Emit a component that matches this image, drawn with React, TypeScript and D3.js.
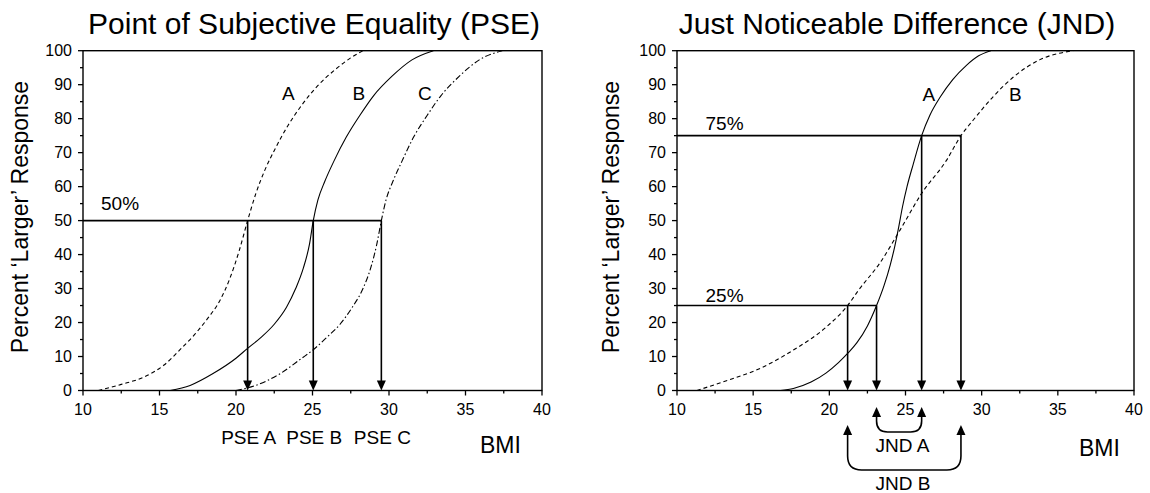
import React from 'react'
import * as d3 from 'd3'

// axis ticks (BMI on x, percent on y)
const bmiTicks = [10, 15, 20, 25, 30, 35, 40]
const bmiMinor = [12.5, 17.5, 22.5, 27.5, 32.5, 37.5]
const pctTicks = [0, 10, 20, 30, 40, 50, 60, 70, 80, 90, 100]
const pctMinor = [5, 15, 25, 35, 45, 55, 65, 75, 85, 95]

// PSE panel curves, [bmi, percent]
const pseA = [[11.0, 0], [12.5, 1.8], [14.0, 4], [15.3, 7.5], [16.34, 12], [17.3, 16.5], [18.2, 21.5], [18.95, 26.5], [19.6, 33], [20.2, 41], [20.76, 50], [21.3, 58], [21.9, 65], [22.6, 71.5], [23.4, 78], [24.3, 84], [25.3, 89.5], [26.5, 94.5], [27.4, 97.6], [28.3, 100]]
const pseB = [[15.7, 0], [17.0, 1.5], [18.5, 5], [20.0, 9.5], [20.76, 12.4], [21.6, 15.5], [22.5, 19.5], [23.3, 24.5], [23.9, 30], [24.4, 36], [24.8, 43], [25.05, 50], [25.35, 56], [25.8, 61.5], [26.4, 67.5], [27.2, 74.5], [28.1, 81], [29.0, 86.8], [30.2, 92.5], [31.5, 97.3], [32.9, 100]]
const pseC = [[20.0, 0], [21.3, 1.5], [22.9, 5], [24.3, 9.5], [25.05, 12], [25.9, 15.5], [26.8, 19.5], [27.6, 24.5], [28.3, 30], [28.8, 36], [29.2, 43], [29.5, 50], [29.8, 56], [30.25, 61.5], [30.85, 67.5], [31.6, 74.5], [32.5, 81], [33.4, 86.8], [34.6, 92.5], [35.9, 97.3], [37.4, 100]]
const pseLevel = 50
const pseValues = [20.76, 25.05, 29.5]
const pseNames = ['PSE A', 'PSE B', 'PSE C']

// JND panel curves
const jndA = [[16.8, 0], [17.64, 0.6], [18.8, 2.5], [19.8, 5.2], [20.6, 8.2], [21.2, 10.9], [21.8, 14], [22.5, 19], [23.1, 25], [23.6, 31], [24.0, 37], [24.3, 42.5], [24.55, 48], [24.8, 54], [25.1, 60], [25.5, 66.5], [26.06, 75], [26.6, 81], [27.3, 86.5], [28.1, 91.5], [29.0, 95.7], [29.8, 98.5], [30.6, 100]]
const jndB = [[11.3, 0], [13.0, 2.5], [15.45, 6.5], [17.64, 11.9], [19.83, 18.8], [21.2, 25], [21.93, 29.6], [23.3, 37.4], [24.64, 47.2], [26.06, 58], [27.7, 67.8], [28.64, 75], [29.45, 79.6], [30.76, 86.5], [32.1, 92.3], [33.8, 97.3], [36.0, 100]]
const jndLow = 25
const jndHigh = 75
const jndLowValues = [21.2, 23.1]
const jndHighValues = [26.06, 28.64]

const font = "'Liberation Sans', Arial, Helvetica, sans-serif"
const W = 1150
const H = 493
const TOP = 50.7
const BOTTOM = 390.5

type Pt = number[]
type S = d3.ScaleLinear<number, number>

function Axes({ x, y }: { x: S; y: S }) {
  const [x0, x1] = x.range()
  return (
    <g stroke="#000" fill="none">
      <rect x={x0} y={TOP} width={x1 - x0} height={BOTTOM - TOP} strokeWidth={1.4} />
      {bmiTicks.map(t => (
        <line key={'xt' + t} x1={x(t)} x2={x(t)} y1={BOTTOM} y2={BOTTOM + 5} strokeWidth={1.3} />
      ))}
      {bmiMinor.map(t => (
        <line key={'xm' + t} x1={x(t)} x2={x(t)} y1={BOTTOM} y2={BOTTOM + 3} strokeWidth={1.3} />
      ))}
      {pctTicks.map(t => (
        <line key={'yt' + t} x1={x0 - 5} x2={x0} y1={y(t)} y2={y(t)} strokeWidth={1.3} />
      ))}
      {pctMinor.map(t => (
        <line key={'ym' + t} x1={x0 - 3} x2={x0} y1={y(t)} y2={y(t)} strokeWidth={1.3} />
      ))}
      <g stroke="none" fill="#000" fontFamily={font} fontSize={16}>
        {bmiTicks.map(t => (
          <text key={'xl' + t} x={x(t)} y={415} textAnchor="middle">{t}</text>
        ))}
        {pctTicks.map(t => (
          <text key={'yl' + t} x={x0 - 11} y={y(t) + 5.6} textAnchor="end">{t}</text>
        ))}
      </g>
    </g>
  )
}

function arrowDown(cx: number, tip: number) {
  return `M${cx - 4.5},${tip - 10}L${cx + 4.5},${tip - 10}L${cx},${tip}Z`
}
function arrowUp(cx: number, tip: number) {
  return `M${cx - 4.5},${tip + 10}L${cx + 4.5},${tip + 10}L${cx},${tip}Z`
}

function bracket(xa: number, xb: number, tip: number, bottom: number, r: number) {
  const b = tip + 10
  return `M${xa},${b}V${bottom - r}Q${xa},${bottom} ${xa + r},${bottom}H${xb - r}Q${xb},${bottom} ${xb},${bottom - r}V${b}`
}

function Drop({ x, y, v, level }: { x: S; y: S; v: number; level: number }) {
  return (
    <g>
      <line x1={x(v)} x2={x(v)} y1={y(level)} y2={BOTTOM - 9} stroke="#000" strokeWidth={1.6} />
      <path d={arrowDown(x(v), BOTTOM)} fill="#000" />
    </g>
  )
}

export default function App() {
  const xL = d3.scaleLinear().domain([10, 40]).range([83, 542])
  const xR = d3.scaleLinear().domain([10, 40]).range([677, 1134])
  const y = d3.scaleLinear().domain([0, 100]).range([BOTTOM, TOP])

  const lineOf = (x: S) =>
    d3.line<Pt>().x(d => x(d[0])).y(d => y(d[1])).curve(d3.curveMonotoneX)
  const lineL = lineOf(xL)
  const lineR = lineOf(xR)

  const labelStyle = { fontFamily: font, fontSize: 19 }

  return (
    <svg width={W} height={H} style={{ position: 'absolute', left: 0, top: 0, background: '#fff' }}>
      <rect width={W} height={H} fill="#fff" />

      {/* left panel */}
      <text x={314} y={34} textAnchor="middle" fontFamily={font} fontSize={30}>Point of Subjective Equality (PSE)</text>
      <text transform="translate(28,217) rotate(-90)" textAnchor="middle" fontFamily={font} fontSize={23}>Percent ‘Larger’ Response</text>
      <Axes x={xL} y={y} />
      <path d={lineL(pseA) || ''} fill="none" stroke="#000" strokeWidth={1.1} strokeDasharray="4,3" />
      <path d={lineL(pseB) || ''} fill="none" stroke="#000" strokeWidth={1.1} />
      <path d={lineL(pseC) || ''} fill="none" stroke="#000" strokeWidth={1.1} strokeDasharray="6,2.5,1.5,2.5" />
      <line x1={xL(10)} x2={xL(pseValues[2])} y1={y(pseLevel)} y2={y(pseLevel)} stroke="#000" strokeWidth={1.6} />
      {pseValues.map(v => <Drop key={'pd' + v} x={xL} y={y} v={v} level={pseLevel} />)}
      <text x={101} y={210} {...labelStyle}>{pseLevel}%</text>
      <text x={282} y={100} {...labelStyle}>A</text>
      <text x={352.5} y={100} {...labelStyle}>B</text>
      <text x={418} y={100} {...labelStyle}>C</text>
      {pseNames.map((n, i) => (
        <text key={n} x={xL(pseValues[i]) + 1} y={444} textAnchor="middle" {...labelStyle}>{n}</text>
      ))}
      <text x={480} y={453} fontFamily={font} fontSize={23}>BMI</text>

      {/* right panel */}
      <text x={897} y={34} textAnchor="middle" fontFamily={font} fontSize={30}>Just Noticeable Difference (JND)</text>
      <text transform="translate(619,217) rotate(-90)" textAnchor="middle" fontFamily={font} fontSize={23}>Percent ‘Larger’ Response</text>
      <Axes x={xR} y={y} />
      <path d={lineR(jndA) || ''} fill="none" stroke="#000" strokeWidth={1.1} />
      <path d={lineR(jndB) || ''} fill="none" stroke="#000" strokeWidth={1.1} strokeDasharray="4,3" />
      <line x1={xR(10)} x2={xR(jndHighValues[1])} y1={y(jndHigh)} y2={y(jndHigh)} stroke="#000" strokeWidth={1.6} />
      <line x1={xR(10)} x2={xR(jndLowValues[1])} y1={y(jndLow)} y2={y(jndLow)} stroke="#000" strokeWidth={1.6} />
      {jndHighValues.map(v => <Drop key={'jh' + v} x={xR} y={y} v={v} level={jndHigh} />)}
      {jndLowValues.map(v => <Drop key={'jl' + v} x={xR} y={y} v={v} level={jndLow} />)}
      <text x={705.5} y={130} {...labelStyle}>{jndHigh}%</text>
      <text x={705.5} y={302} {...labelStyle}>{jndLow}%</text>
      <text x={922.5} y={101} {...labelStyle}>A</text>
      <text x={1009} y={101} {...labelStyle}>B</text>

      {/* JND brackets */}
      <path d={bracket(xR(jndLowValues[1]), xR(jndHighValues[0]), 407, 432, 11)} fill="none" stroke="#000" strokeWidth={1.6} />
      <path d={arrowUp(xR(jndLowValues[1]), 407)} fill="#000" />
      <path d={arrowUp(xR(jndHighValues[0]), 407)} fill="#000" />
      <path d={bracket(xR(jndLowValues[0]), xR(jndHighValues[1]), 425, 470, 14)} fill="none" stroke="#000" strokeWidth={1.6} />
      <path d={arrowUp(xR(jndLowValues[0]), 425)} fill="#000" />
      <path d={arrowUp(xR(jndHighValues[1]), 425)} fill="#000" />
      <text x={902.5} y={452} textAnchor="middle" {...labelStyle}>JND A</text>
      <text x={903} y={490} textAnchor="middle" {...labelStyle}>JND B</text>
      <text x={1079} y={456} fontFamily={font} fontSize={23}>BMI</text>
    </svg>
  )
}
